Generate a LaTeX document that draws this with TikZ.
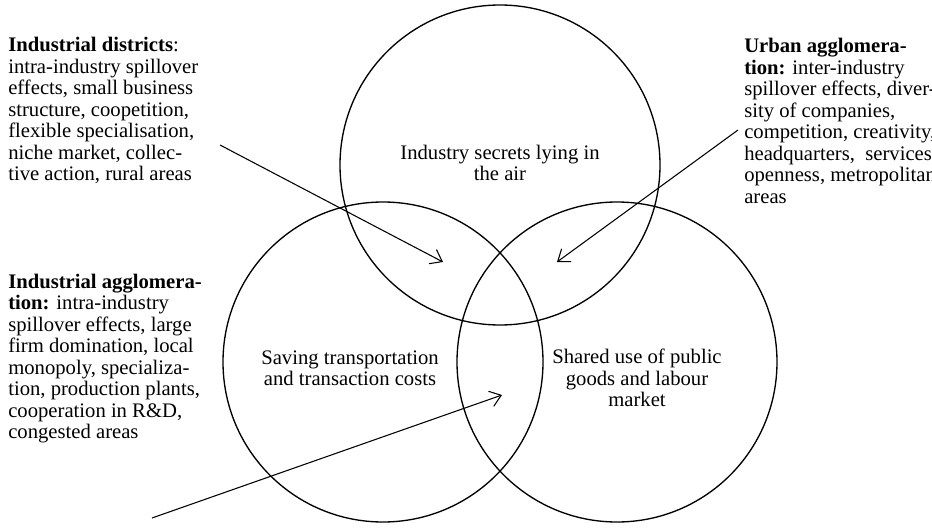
\documentclass[tikz,border=0pt]{standalone}
\usepackage{fontspec}
\setmainfont{Liberation Serif}
\usetikzlibrary{arrows.meta}
\begin{document}
\begin{tikzpicture}[x=0.75pt,y=-0.75pt,
  ring/.style={circle,draw,line width=1pt,minimum size=240pt,inner sep=0pt},
  txt/.style={inner sep=0pt,font=\fontsize{15.5}{16.1}\selectfont},
  note/.style={txt,anchor=west,align=left},
  lbl/.style={txt,align=center},
  ptr/.style={line width=0.8pt,-{Straight Barb[length=8pt,width=12pt]}}]
\useasboundingbox (0,0) rectangle (932,528);
\node[ring] (top) at (500,165) {};
\node[ring] (left) at (383,362) {};
\node[ring] (right) at (617,362) {};
\node[lbl] (secrets) at (500,163) {Industry secrets lying in\\the air};
\node[lbl] (saving) at (350,368) {Saving transportation\\and transaction costs};
\node[lbl] (shared) at (637,378) {Shared use of public\\goods and labour\\market};
\node[note] (districts) at (8,110.5) {\textbf{Industrial districts}:\\intra-industry spillover\\effects, small business\\structure, coopetition,\\flexible specialisation,\\niche market, collec-\\tive action, rural areas};
\node[note] (indagg) at (8,358.5) {\textbf{Industrial agglomera-}\\\textbf{tion:} intra-industry\\spillover effects, large\\firm domination, local\\monopoly, specializa-\\tion, production plants,\\cooperation in R\&D,\\congested areas};
\node[note] (urban) at (744,121) {\textbf{Urban agglomera-}\\\textbf{tion:} inter-industry\\spillover effects, diver-\\sity of companies,\\competition, creativity,\\headquarters,\ \ services,\\openness, metropolitan\\areas};
\coordinate (a1s) at (220,145);
\coordinate (a1e) at (443,262);
\coordinate (a2s) at (738,130);
\coordinate (a2e) at (557,262);
\coordinate (a3s) at (152,518);
\coordinate (a3e) at (502,395);
\draw[ptr] (a1s) -- (a1e);
\draw[ptr] (a2s) -- (a2e);
\draw[ptr] (a3s) -- (a3e);
\end{tikzpicture}
\end{document}
